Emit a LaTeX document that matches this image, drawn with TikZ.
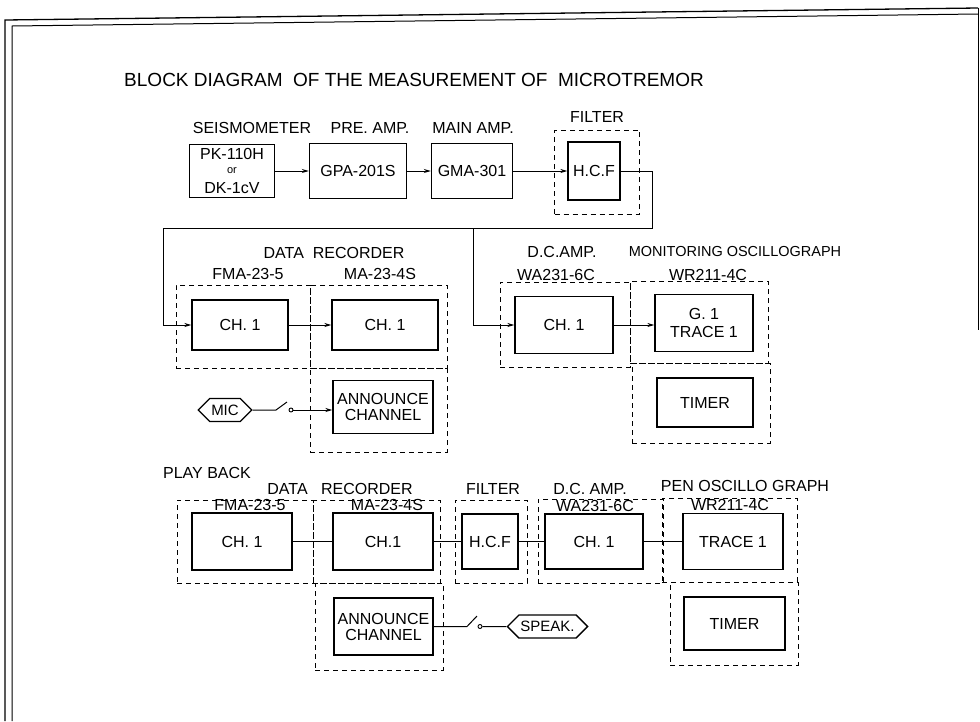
\documentclass[tikz,border=0pt]{standalone}
\usepackage{fontspec}
\setmainfont{Liberation Sans}
\usetikzlibrary{arrows.meta,shapes.symbols}
\tikzset{
  blk/.style 2 args={draw, line width=1.3pt, minimum width=#1, minimum height=#2, inner sep=0pt, align=center, font=\fontsize{16}{16}\selectfont},
  grp/.style 2 args={draw, dashed, dash pattern=on 5pt off 4pt, line width=0.9pt, minimum width=#1, minimum height=#2, inner sep=0pt},
  lbl/.style={inner sep=0pt, font=\fontsize{16}{17}\selectfont},
  ttl/.style={inner sep=0pt, font=\fontsize{19}{21}\selectfont},
  tag/.style={draw, line width=1.3pt, signal, signal to=west and east, inner xsep=1.5pt, minimum height=23pt, font=\fontsize{15}{15}\selectfont},
  knob/.style={circle, draw, line width=0.9pt, inner sep=0pt, minimum size=4pt}
}
\begin{document}
\begin{tikzpicture}[x=1pt, y=-1pt, >={Stealth[length=7pt,width=4pt]}, line width=1pt]
\useasboundingbox (0,0) rectangle (980,721);
\draw[line width=1.3pt] (5,721) -- (5,20) -- (978,8);
\draw (12,721) -- (12,26) -- (978,14);
\draw (978,8) -- (978,330);
\node[ttl] (title) at (414,80){BLOCK DIAGRAM\ \ OF THE MEASUREMENT OF\ \ MICROTREMOR};
\node[lbl] (seisl) at (252,128){SEISMOMETER};
\node[lbl] (prel) at (370,128){PRE. AMP.};
\node[lbl] (mainl) at (473,128){MAIN AMP.};
\node[lbl] (filtl1) at (597,117){FILTER};
\node[blk={85pt}{53pt}] (pk) at (232,171){PK-110H\\[-2pt]{\fontsize{11}{11}\selectfont or}\\[4pt]DK-1cV};
\node[blk={97pt}{55pt}] (gpa) at (358,171){GPA-201S};
\node[blk={81pt}{55pt}] (gma) at (472,171){GMA-301};
\node[grp={85pt}{84pt}] (filtgrp1) at (597,172){};
\node[blk={52pt}{58pt}] (hcf1) at (594,171){H.C.F};
\draw[->](pk) -- (gpa);
\draw[->](gpa) -- (gma);
\draw[->](gma) -- (hcf1);
\coordinate (r1) at (652,228);
\coordinate (r2) at (163,228);
\coordinate (r3) at (473,228);
\node[lbl] (datal1) at (334,253){DATA\ \ RECORDER};
\node[lbl] (fmal1) at (248,274){FMA-23-5};
\node[lbl] (mal1) at (380,274){MA-23-4S};
\node[grp={134pt}{83pt}] (fmagrp1) at (243,326.5){};
\node[grp={137pt}{83pt}] (magrp1) at (378.5,326.5){};
\node[grp={137pt}{84pt}] (magrpb1) at (378.5,410){};
\node[blk={96pt}{50pt}] (fmach1) at (240,325){CH.\ 1};
\node[blk={106pt}{50pt}] (mach1) at (385,325){CH.\ 1};
\node[blk={100pt}{53pt}] (ann1) at (383,407){ANNOUNCE\\CHANNEL};
\node[tag] (mic) at (225,410){MIC};
\coordinate (sw1) at (276,410);
\node[knob] (swk1) at (291,410){};
\draw[](mic) -- (sw1) -- (287,402);
\draw[->](swk1) -- (ann1.west |- swk1);
\draw[->](fmach1) -- (mach1);
\node[lbl] (dcl1) at (562,252){D.C.AMP.};
\node[lbl] (wal1) at (556,275){WA231-6C};
\node[grp={130pt}{85pt}] (dcgrp1) at (565,324.5){};
\node[blk={98pt}{57pt}] (dcch1) at (564,325){CH.\ 1};
\draw[](hcf1) -| (r1) -- (r2);
\draw[->](r2) |- (fmach1);
\draw[->](r3) |- (dcch1);
\node[lbl, font=\fontsize{14.5}{17}\selectfont] (monl) at (735,252){MONITORING OSCILLOGRAPH};
\node[lbl] (wrl1) at (708,275){WR211-4C};
\node[grp={138pt}{82pt}] (mongrp1) at (699,322){};
\node[grp={138pt}{80pt}] (mongrpb1) at (701,403){};
\node[blk={98pt}{57pt}] (trace1) at (704,323){G.\ 1\\[2pt]TRACE 1};
\node[blk={96pt}{49pt}] (timer1) at (705,402.5){TIMER};
\draw[->](dcch1) -- (trace1.west |- dcch1);
\node[lbl] (playl) at (207,473){PLAY BACK};
\node[lbl] (datal2) at (340,489){DATA\ \ \ RECORDER};
\node[grp={136pt}{83pt}] (fmagrp2) at (245,541.5){};
\node[grp={127pt}{83pt}] (magrp2) at (376.5,541.5){};
\node[grp={128pt}{87pt}] (magrpb2) at (379,626.5){};
\node[lbl] (fmal2) at (250,505){FMA-23-5};
\node[lbl] (mal2) at (387,505){MA-23-4S};
\node[blk={100pt}{57pt}] (fmach2) at (242,541.5){CH.\ 1};
\node[blk={100pt}{57pt}] (mach2) at (383,541.5){CH.1};
\node[blk={99pt}{57pt}] (ann2) at (383.5,626.5){ANNOUNCE\\CHANNEL};
\node[lbl] (filtl2) at (493,489){FILTER};
\node[grp={72pt}{83pt}] (filtgrp2) at (491,541.5){};
\node[blk={56pt}{55pt}] (hcf2) at (490,541.5){H.C.F};
\node[lbl] (dcl2) at (590,489){D.C. AMP.};
\node[lbl] (wal2) at (595,506){WA231-6C};
\node[grp={125pt}{84pt}] (dcgrp2) at (600.5,541){};
\node[blk={98pt}{55pt}] (dcch2) at (594,541.5){CH.\ 1};
\node[lbl] (penl) at (745,486){PEN OSCILLO GRAPH};
\node[lbl] (wrl2) at (730,505){WR211-4C};
\node[grp={135pt}{84pt}] (pengrp) at (729.5,540){};
\node[grp={128pt}{83pt}] (pengrpb) at (734,623.5){};
\node[blk={100pt}{56pt}] (trace2) at (733,541.5){TRACE 1};
\node[blk={101pt}{53pt}] (timer2) at (734.5,623.5){TIMER};
\node[tag] (speak) at (547.5,626.5){SPEAK.};
\coordinate (sw2) at (467,626.5);
\node[knob] (swk2) at (480,626.5){};
\draw[](ann2) -- (sw2) -- (477,616);
\draw[](swk2) -- (speak);
\draw[](fmach2) -- (mach2);
\draw[](mach2) -- (hcf2);
\draw[](hcf2) -- (dcch2);
\draw[](dcch2) -- (trace2);
\end{tikzpicture}
\end{document}
